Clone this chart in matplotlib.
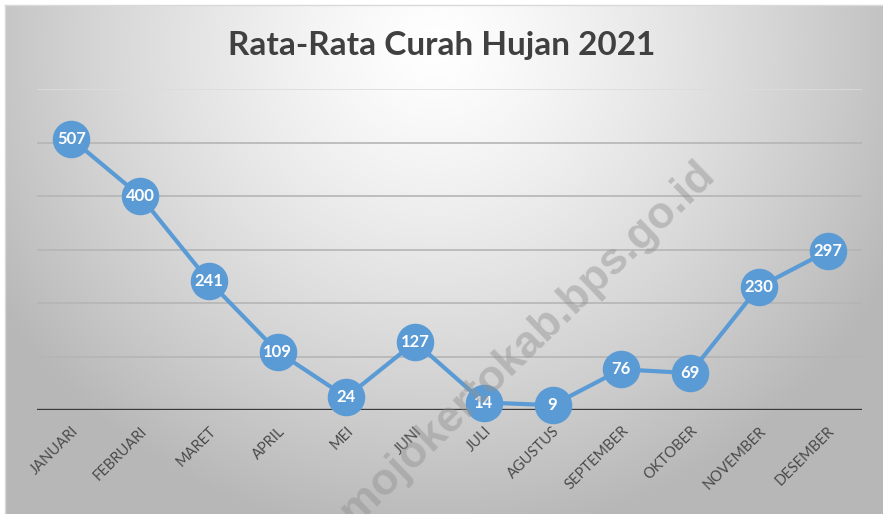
import numpy as np
import matplotlib
matplotlib.use("Agg")
import matplotlib.pyplot as plt

bulan = ['JANUARI', 'FEBRUARI', 'MARET', 'APRIL', 'MEI', 'JUNI', 'JULI',
         'AGUSTUS', 'SEPTEMBER', 'OKTOBER', 'NOVEMBER', 'DESEMBER']
curah_hujan = [507, 400, 241, 109, 24, 127, 14, 9, 76, 69, 230, 297]
judul = 'Rata-Rata Curah Hujan 2021'
watermark = 'mojokertokab.bps.go.id'

W, H = 883, 514
fig = plt.figure(figsize=(W / 100, H / 100), dpi=100)
fig.patch.set_facecolor('white')

# gradient background (white center top, grey edges)
bg = fig.add_axes([5 / W, 0, (W - 5) / W, (H - 5) / H])
yy, xx = np.mgrid[0:H - 5, 0:W - 5]
d = np.sqrt(((xx - 430) / 540.0) ** 2 + ((yy - 40) / 520.0) ** 2)
val = np.clip(1.0 - 0.30 * d ** 1.3, 0.72, 1.0)
bg.imshow(np.dstack([val, val, val]), aspect='auto', origin='upper',
          extent=[0, 1, 0, 1], interpolation='bilinear')
bg.set_axis_off()
fig.add_artist(plt.Line2D([5 / W, 5 / W], [0, (H - 5) / H], color='#d9d9d9', lw=1))
fig.add_artist(plt.Line2D([5 / W, 1], [(H - 5) / H, (H - 5) / H], color='#d9d9d9', lw=1))

ax = fig.add_axes([37 / W, 104 / H, 825 / W, 321 / H])
ax.patch.set_alpha(0)
x = np.arange(len(bulan))
ax.set_xlim(-0.5, len(bulan) - 0.5)
ax.set_ylim(0, 600)
for g in [100, 200, 300, 400, 500, 600]:
    ax.axhline(g, color='#b5b5b5' if g < 600 else '#dcdcdc', lw=1.2, zorder=1)
ax.axhline(0, color='#3a3a3a', lw=2.4, zorder=2)
for s in ax.spines.values():
    s.set_visible(False)
ax.set_yticks([])
ax.set_xticks(x)
ax.set_xticklabels(bulan, rotation=45, ha='right', rotation_mode='anchor',
                   fontsize=10.5, color='#4a4a4a', family='Lato')
ax.tick_params(axis='x', length=0, pad=10)

ax.plot(x, curah_hujan, color='#5b9bd5', lw=3, marker='o', ms=26,
        markerfacecolor='#5b9bd5', markeredgecolor='#5b9bd5', zorder=3,
        clip_on=False)
for xi, v in zip(x, curah_hujan):
    ax.text(xi, v, str(v), ha='center', va='center', color='white',
            fontsize=12, fontweight='bold', family='Lato', zorder=4)

fig.text(0.5, 1 - 45 / H, judul, ha='center', va='center', fontsize=24,
         color='#404040', family='Lato', fontweight='bold')

# watermark runs off the bottom edge as in the source
fig.text(527 / W, 1 - 343 / H, watermark, ha='center', va='center',
         rotation=44, fontsize=32, fontweight='bold', color='#909090',
         alpha=0.45, family='Liberation Sans', zorder=10)

fig.savefig('out.png', dpi=100)
